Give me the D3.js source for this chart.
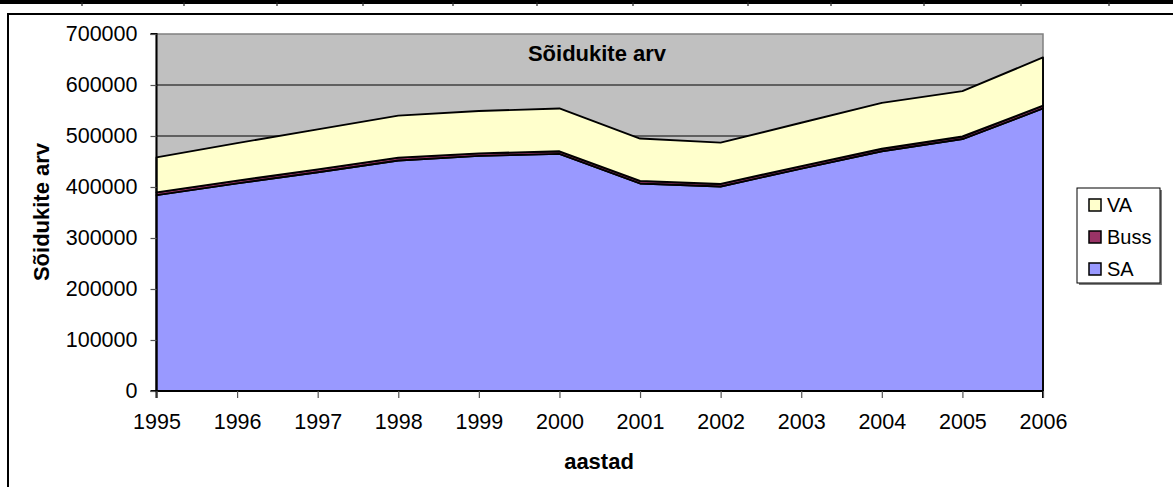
<!DOCTYPE html>
<html>
<head>
<meta charset="utf-8">
<script src="https://cdn.jsdelivr.net/npm/d3@7"></script>
<style>
body { margin:0; background:white; }
text { font-family: "Liberation Sans", Arial, sans-serif; fill:black; }
</style>
</head>
<body>
<script>
//data
var years = [1995,1996,1997,1998,1999,2000,2001,2002,2003,2004,2005,2006];
var SA   = [384000,407000,429000,452000,461000,465000,407000,401000,436000,470000,494000,554000];
var Buss = [5500,5500,5500,5500,5000,5000,5000,5000,5000,5000,5000,5500];
var VA   = [68500,73500,78500,82500,83000,84000,83000,81000,85000,90000,89000,94500];
var yTicks = [0,100000,200000,300000,400000,500000,600000,700000];
var seriesNames = ["SA","Buss","VA"];
var colors = {SA:"#9999FF", Buss:"#993366", VA:"#FFFFCC"};
var tableTicks = [82,184,277,363,453,537,633,748,831,924,1021,1109];

var w = 1173, h = 487,
	plot = {left:156.5, right:1043, top:34, bottom:391};

var svg = d3.select("body").append("svg")
	.attr("width", w)
	.attr("height", h);

//table border above the chart
svg.append("line")
	.attr("x1",0).attr("x2",w).attr("y1",2).attr("y2",2)
	.attr("stroke","black").attr("stroke-width",4);
svg.selectAll(".tt").data(tableTicks).enter().append("line")
	.attr("x1",function(d){return d;}).attr("x2",function(d){return d;})
	.attr("y1",2).attr("y2",6)
	.attr("stroke","#222").attr("stroke-width",1.2);

//chart frame
svg.append("rect")
	.attr("x",8).attr("y",14)
	.attr("width",w+20).attr("height",h+20)
	.attr("fill","white")
	.attr("stroke","black")
	.attr("stroke-width",2);

var x = d3.scaleLinear()
	.domain([years[0], years[years.length-1]])
	.range([plot.left, plot.right]);
var y = d3.scaleLinear()
	.domain([0,700000])
	.range([plot.bottom, plot.top]);

//plot background
svg.append("rect")
	.attr("x",plot.left).attr("y",plot.top)
	.attr("width",plot.right-plot.left).attr("height",plot.bottom-plot.top)
	.attr("fill","#C0C0C0")
	.attr("stroke","#808080")
	.attr("stroke-width",1.5);

//gridlines
svg.selectAll(".grid").data(yTicks.slice(1,-1)).enter().append("line")
	.attr("x1",plot.left).attr("x2",plot.right)
	.attr("y1",function(d){return y(d);}).attr("y2",function(d){return y(d);})
	.attr("stroke","black").attr("stroke-width",1);

//stacked areas
var table = years.map(function(yr,i){
	return {year:yr, SA:SA[i], Buss:Buss[i], VA:VA[i]};
});
var stacked = d3.stack().keys(seriesNames)(table);

var area = d3.area()
	.x(function(d){return x(d.data.year);})
	.y0(function(d){return y(d[0]);})
	.y1(function(d){return y(d[1]);});

svg.selectAll(".layer").data(stacked).enter().append("path")
	.attr("d",function(d){return area(d) + "Z";})
	.attr("fill",function(d){return colors[d.key];})
	.attr("stroke","black")
	.attr("stroke-width",1.9)
	.attr("stroke-linejoin","round");

//axes
var yAxis = svg.append("g")
	.attr("transform","translate(" + plot.left + ",0)")
	.call(d3.axisLeft(y).tickValues(yTicks).tickFormat(d3.format("d")).tickSize(6).tickPadding(13));
var xAxis = svg.append("g")
	.attr("transform","translate(0," + plot.bottom + ")")
	.call(d3.axisBottom(x).tickValues(years).tickFormat(d3.format("d")).tickSize(7).tickPadding(16));

[yAxis,xAxis].forEach(function(a){
	a.select(".domain").attr("stroke","black").attr("stroke-width",2);
	a.selectAll(".tick line").attr("stroke","#555").attr("stroke-width",1.2);
	a.selectAll(".tick text")
		.style("font-family","'Liberation Sans', Arial, sans-serif")
		.style("font-size","21.5px")
		.attr("fill","black");
});
xAxis.select(".domain").attr("d","M" + plot.left + ",7V0H" + plot.right + "V7");
yAxis.select(".domain").attr("d","M-6," + plot.top + "H0V" + plot.bottom + "H-6");

//titles
svg.append("text")
	.text("Sõidukite arv")
	.attr("x",597).attr("y",61)
	.attr("text-anchor","middle")
	.style("font-size","22px")
	.style("font-weight","bold");

svg.append("text")
	.text("Sõidukite arv")
	.attr("transform","translate(49,212) rotate(-90)")
	.attr("text-anchor","middle")
	.style("font-size","22px")
	.style("font-weight","bold");

svg.append("text")
	.text("aastad")
	.attr("x",599).attr("y",469)
	.attr("text-anchor","middle")
	.style("font-size","22px")
	.style("font-weight","bold");

//legend
var lg = svg.append("g");
lg.append("rect")
	.attr("x",1079).attr("y",190)
	.attr("width",83).attr("height",95)
	.attr("fill","#808080");
lg.append("rect")
	.attr("x",1077).attr("y",188)
	.attr("width",83).attr("height",95)
	.attr("fill","white")
	.attr("stroke","black")
	.attr("stroke-width",1);

var legendItems = seriesNames.slice().reverse();
var items = lg.selectAll(".li").data(legendItems).enter().append("g")
	.attr("transform",function(d,i){return "translate(1089," + (205 + i*32) + ")";});
items.append("rect")
	.attr("x",0).attr("y",-6)
	.attr("width",12).attr("height",12)
	.attr("fill",function(d){return colors[d];})
	.attr("stroke","black")
	.attr("stroke-width",1.5);
items.append("text")
	.text(function(d){return d;})
	.attr("x",18).attr("y",7)
	.style("font-size","20px");
</script>
</body>
</html>
